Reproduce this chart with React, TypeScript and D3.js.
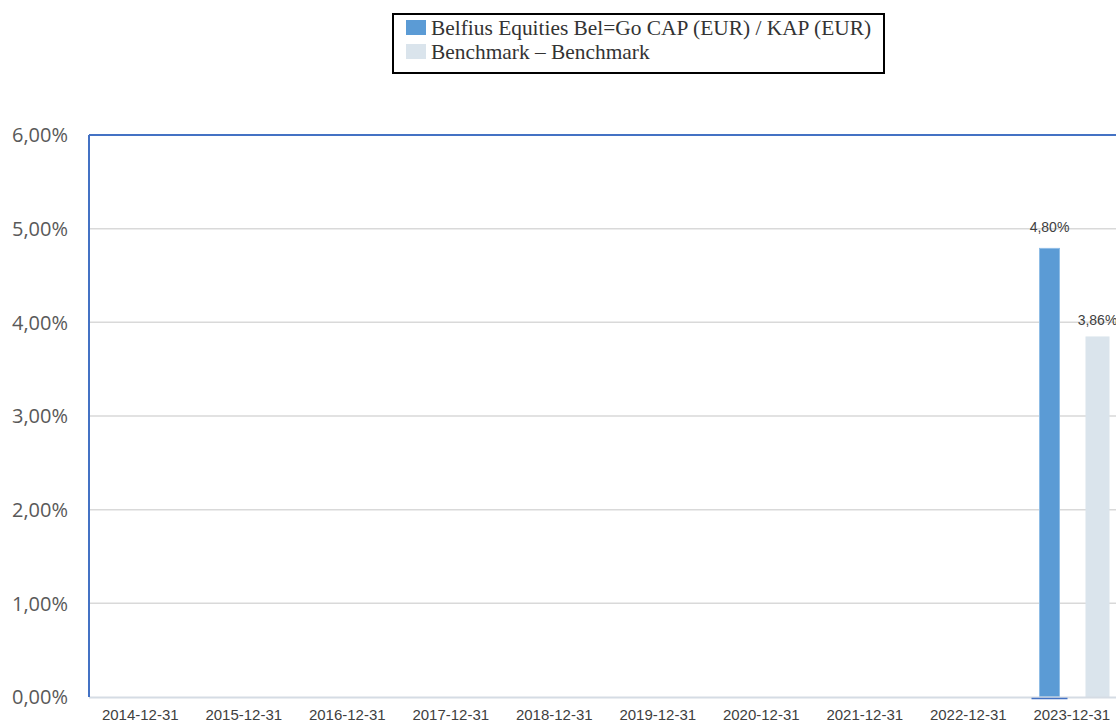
import React from "react";
import * as d3 from "d3";

const categories = [
  "2014-12-31", "2015-12-31", "2016-12-31", "2017-12-31", "2018-12-31",
  "2019-12-31", "2020-12-31", "2021-12-31", "2022-12-31", "2023-12-31",
];
const seriesNames = ["Belfius Equities Bel=Go CAP (EUR) / KAP (EUR)", "Benchmark – Benchmark"];
const fundValues: (number | null)[] = [null, null, null, null, null, null, null, null, null, 4.8];
const benchValues: (number | null)[] = [null, null, null, null, null, null, null, null, null, 3.86];
const yTicks = [0, 1, 2, 3, 4, 5, 6];

const COLORS = ["#5b9bd5", "#dae4ec"];
const BAR_W = [20, 24];
const LABEL_OFF = [15, 10];

const W = 1116, H = 726;
const L = 89, T = 135, B = 697;

function fmt(v: number) {
  return v.toFixed(2).replace(".", ",") + "%";
}

export default function App() {
  const x0 = d3.scaleBand<string>().domain(categories).range([L - 0.5, L - 0.5 + 103.5 * categories.length]);
  const x1 = d3.scalePoint<string>().domain(seriesNames).range([29.5, 77.5]);
  const y = d3.scaleLinear().domain([0, 6]).range([B, T]);
  const data = [fundValues, benchValues];

  return (
    <svg width={W} height={H} style={{ position: "absolute", left: 0, top: 0, background: "#fff" }}>
      {/* legend */}
      <rect x={393} y={14} width={491} height={59} fill="#fff" stroke="#000" strokeWidth={2} />
      {seriesNames.map((s, i) => (
        <g key={s}>
          <rect x={406} y={20 + i * 24} width={20} height={15} fill={COLORS[i]} />
          <text x={431} y={35 + i * 24} fontFamily="Liberation Serif, Times New Roman, serif" fontSize={21.4} fill="#333">{s}</text>
        </g>
      ))}
      {/* gridlines */}
      {yTicks.filter((t) => t > 0 && t < 6).map((t) => (
        <line key={t} x1={L} x2={W} y1={y(t)} y2={y(t)} stroke="#d9d9d9" strokeWidth={1.5} />
      ))}
      {/* y labels */}
      {yTicks.map((t) => (
        <text key={t} x={68} y={y(t)} dy="0.36em" textAnchor="end" fontFamily="Open Sans, sans-serif" fontSize={20} fill="#595959">{fmt(t)}</text>
      ))}
      {/* bars */}
      {data.map((vals, si) =>
        vals.map((v, ci) => {
          if (v == null) return null;
          const cx = (x0(categories[ci]) as number) + (x1(seriesNames[si]) as number);
          return (
            <g key={`${si}-${ci}`}>
              <rect x={cx - BAR_W[si] / 2} y={y(v) + 1} width={BAR_W[si]} height={y(0) - y(v) - 1} fill={COLORS[si]} stroke={si === 0 ? "#8fbde6" : "none"} strokeWidth={1} />
              <text x={cx} y={y(v) - LABEL_OFF[si]} textAnchor="middle" fontFamily="Liberation Sans, Arial, sans-serif" fontSize={14} fill="#404040">{fmt(v)}</text>
            </g>
          );
        })
      )}
      {/* axis */}
      <line x1={L} x2={W} y1={B + 0.5} y2={B + 0.5} stroke="#d5dce4" strokeWidth={2} />
      {fundValues.map((v, ci) => {
        if (v == null) return null;
        const cx = (x0(categories[ci]) as number) + (x1(seriesNames[0]) as number);
        return <line key={ci} x1={cx - 18} x2={cx + 18} y1={B + 1.5} y2={B + 1.5} stroke="#4472c4" strokeWidth={1.5} />;
      })}
      {/* frame */}
      <line x1={L} x2={L} y1={T} y2={B} stroke="#4472c4" strokeWidth={2} />
      <line x1={L} x2={W} y1={T} y2={T} stroke="#4472c4" strokeWidth={2} />
      {/* x labels */}
      {categories.map((c) => (
        <text key={c} x={(x0(c) as number) + x0.bandwidth() / 2} y={720} textAnchor="middle" fontFamily="Liberation Sans, Arial, sans-serif" fontSize={15} fill="#404040">{c}</text>
      ))}
    </svg>
  );
}
